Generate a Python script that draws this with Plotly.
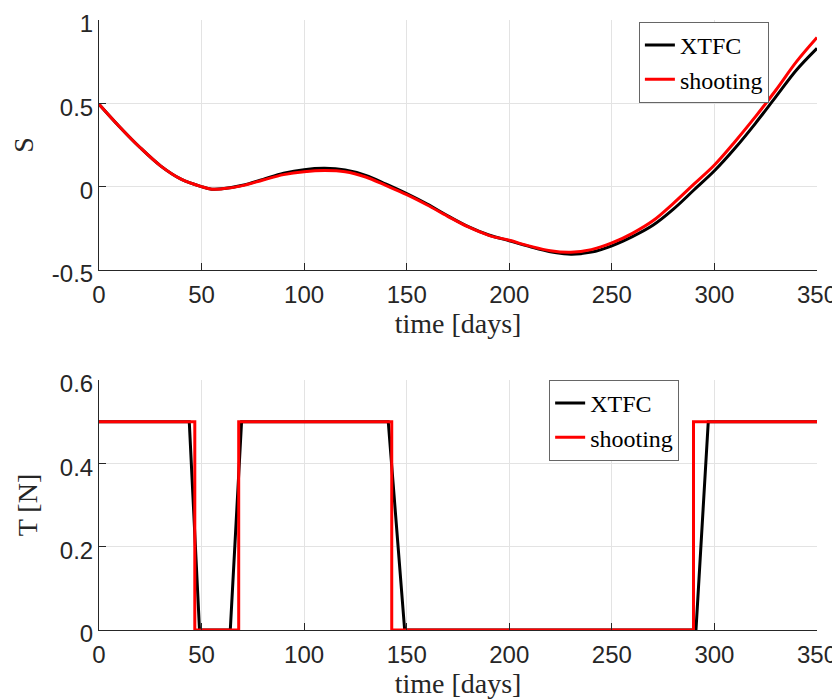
import plotly.graph_objects as go
from plotly.subplots import make_subplots

# switching function S(t)
days = [0, 10, 20, 30, 40, 50, 55, 60, 70, 80, 90, 100, 110, 120, 130, 140, 150,
        160, 170, 180, 190, 200, 210, 220, 230, 240, 250, 260, 270, 280, 290,
        300, 310, 320, 330, 340, 350]
S_xtfc = [0.495, 0.36, 0.235, 0.125, 0.045, 0.0, -0.015, -0.013, 0.008, 0.044,
          0.08, 0.102, 0.11, 0.1, 0.068, 0.015, -0.042, -0.105, -0.175, -0.24,
          -0.29, -0.325, -0.36, -0.39, -0.405, -0.393, -0.355, -0.3, -0.232,
          -0.135, -0.02, 0.095, 0.23, 0.38, 0.54, 0.7, 0.83]
S_shoot = [0.495, 0.36, 0.235, 0.125, 0.045, 0.0, -0.015, -0.013, 0.006, 0.04,
           0.072, 0.09, 0.097, 0.09, 0.058, 0.006, -0.048, -0.11, -0.178, -0.242,
           -0.292, -0.322, -0.357, -0.385, -0.394, -0.378, -0.338, -0.28, -0.205,
           -0.1, 0.015, 0.13, 0.27, 0.42, 0.58, 0.75, 0.895]

# thrust T(t), bottom panel
t_xtfc = [0, 44, 49, 64, 69.5, 141, 149, 291, 297, 350]
T_xtfc = [0.5, 0.5, 0, 0, 0.5, 0.5, 0, 0, 0.5, 0.5]
t_shoot = [0, 46.7, 46.7, 68.1, 68.1, 142.7, 142.7, 289.8, 289.8, 350]
T_shoot = [0.5, 0.5, 0, 0, 0.5, 0.5, 0, 0, 0.5, 0.5]

x_ticks = [0, 50, 100, 150, 200, 250, 300, 350]
s_ticks = [-0.5, 0, 0.5, 1]
s_labels = ['-0.5', '0', '0.5', '1']
T_ticks = [0, 0.2, 0.4, 0.6]
T_labels = ['0', '0.2', '0.4', '0.6']

axcol = '#262626'
grid = '#e3e3e3'
serif = 'Liberation Serif'
sans = 'Liberation Sans'

fig = make_subplots(rows=2, cols=1, vertical_spacing=0.1804)

fig.add_trace(go.Scatter(x=days, y=S_xtfc, name='XTFC', mode='lines', line_shape='spline',
                         line=dict(color='black', width=3), legend='legend'), row=1, col=1)
fig.add_trace(go.Scatter(x=days, y=S_shoot, name='shooting', mode='lines', line_shape='spline',
                         line=dict(color='#ff0000', width=3), legend='legend'), row=1, col=1)
fig.add_trace(go.Scatter(x=t_xtfc, y=T_xtfc, name='XTFC', mode='lines',
                         line=dict(color='black', width=3), legend='legend2'), row=2, col=1)
fig.add_trace(go.Scatter(x=t_shoot, y=T_shoot, name='shooting', mode='lines',
                         line=dict(color='#ff0000', width=3), legend='legend2'), row=2, col=1)

axis_style = dict(showline=True, linecolor=axcol, linewidth=1, ticks='inside', ticklen=7,
                  tickcolor=axcol, showgrid=True, gridcolor=grid, zeroline=False,
                  automargin=False, ticklabeloverflow='allow',
                  tickfont=dict(family=sans, size=24, color=axcol))

for r in (1, 2):
    fig.update_xaxes(range=[0, 350], tickvals=x_ticks, ticktext=[str(v) for v in x_ticks],
                     ticklabelstandoff=3,
                     title=dict(text='time [days]', font=dict(family=serif, size=28, color=axcol),
                                standoff=3),
                     row=r, col=1, **axis_style)

fig.update_yaxes(range=[-0.5, 1], tickvals=s_ticks, ticktext=s_labels, ticklabelshift=4,
                 title=dict(text='S', font=dict(family=serif, size=28, color=axcol), standoff=14),
                 row=1, col=1, **axis_style)
fig.update_yaxes(range=[0, 0.6], tickvals=T_ticks, ticktext=T_labels, ticklabelshift=4,
                 title=dict(text='T [N]', font=dict(family=serif, size=28, color=axcol), standoff=14),
                 row=2, col=1, **axis_style)

legend_style = dict(bgcolor='white', bordercolor='#666666', borderwidth=1,
                    font=dict(family=serif, size=24, color='black'),
                    xanchor='right', yanchor='top', tracegroupgap=0)

# page body has an 8px margin, so the figure is 8px smaller than the window
fig.update_layout(
    width=832, height=691,
    margin=dict(l=91, r=23, t=12, b=69),
    plot_bgcolor='white', paper_bgcolor='white',
    legend=dict(x=0.933, y=0.997, **legend_style),
    legend2=dict(x=0.808, y=0.4098, **legend_style),
)

fig.write_html("out.html")
